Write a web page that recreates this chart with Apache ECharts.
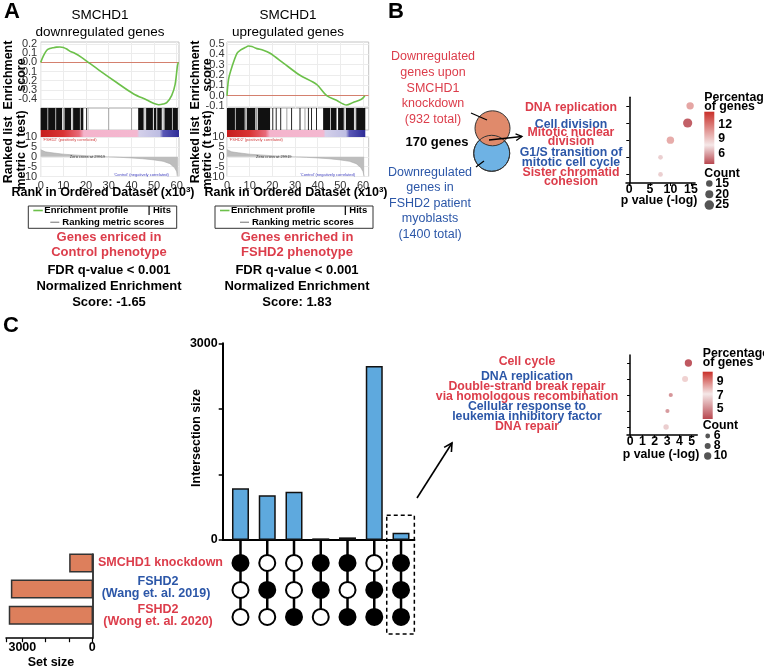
<!DOCTYPE html>
<html><head><meta charset="utf-8">
<script src="https://cdn.jsdelivr.net/npm/echarts@6.0.0/dist/echarts.min.js"></script>
<style>html,body{margin:0;padding:0;background:#fff;}#c{width:764px;height:669px;}</style>
</head><body><div id="c"></div>
<script>
// ================= DATA =================
// Panel A – running enrichment score (x = rank in ordered dataset, x10^3)
const esRankDown  = [0,1.2,2.6,4,5.6,7,8.5,10,11.5,13,15,18,21,26,33.5,41,46.8,50,52,54,55.6,57.8,59.3,60.3,60.7];
const esScoreDown = [0,0.07,0.13,0.15,0.16,0.166,0.168,0.163,0.145,0.12,0.10,0.055,0.0,-0.09,-0.22,-0.345,-0.41,-0.45,-0.462,-0.455,-0.44,-0.36,-0.24,-0.04,0];
const esRankUp    = [0,0.7,2.2,4.4,5.9,8,9.5,11,13.2,16,19,24.9,32,39.5,44,48.3,52.7,55.6,59.3,60.8];
const esScoreUp   = [0,0.16,0.28,0.41,0.44,0.465,0.48,0.475,0.455,0.44,0.41,0.315,0.2,0.11,0.0,-0.045,-0.09,-0.065,-0.035,0];
// ranked list metric (t test)
const metricRank  = [0,0.5,2,5,10,15,20,25,29.5,35,40,45,50,54,57,59,60,60.5];
const metricScore = [3.6,3.0,2.5,2.0,1.3,0.9,0.5,0.2,0,-0.3,-0.6,-1.0,-1.6,-2.3,-3.5,-5.5,-7.5,-10];
// hits: [start, end, dark(1)/grey(0)]
const hitsDown = [[0,3.0,1],[3.3,6.5,1],[6.8,9.4,1],[9.7,10.2,0],[10.5,13.4,1],[13.7,14.0,0],[14.3,17.3,1],[17.6,18.8,1],[20.0,20.3,1],[20.7,21.0,0],[29.8,30.2,0],[39.9,40.3,0],[43.0,45.4,1],[45.8,46.2,0],[46.5,49.5,1],[49.9,51.0,1],[51.4,53.4,1],[53.8,54.2,0],[54.6,57.9,1],[58.2,60.5,1]];
const hitsUp = [[0,3.5,1],[3.8,7.8,1],[8.0,8.4,0],[8.7,12.5,1],[12.8,13.3,0],[13.6,19.0,1],[20.0,20.4,1],[21.5,21.9,1],[23.5,23.9,1],[26.2,26.6,0],[28.3,28.7,1],[32.0,32.4,1],[34.2,34.6,0],[35.7,36.1,1],[37.1,37.5,1],[39.3,39.7,1],[42.4,45.5,1],[45.8,48.3,1],[49.0,51.5,1],[51.8,52.2,0],[52.5,56.0,1],[56.3,56.7,0],[57.0,61.0,1]];
const stripStops = [[0,'#c51d1d'],[10,'#d93434'],[17,'#e86a7a'],[19,'#f4b4cc'],[42.5,'#f4b8d0'],[43.5,'#d4d0ea'],[52.5,'#bdbde2'],[54,'#5a58b6'],[61,'#2d2c96']];
const esTicksDown = [-0.4,-0.3,-0.2,-0.1,0,0.1,0.2];
const esTicksUp   = [-0.1,0,0.1,0.2,0.3,0.4,0.5];
const rankTicks   = [0,10,20,30,40,50,60];
const metricTicks = [-10,-5,0,5,10];

// Panel B – GO terms of the 170 overlapping genes
const bTerms      = ['DNA replication','Cell division','Mitotic nuclear\ndivision','G1/S transition of\nmitotic cell cycle','Sister chromatid\ncohesion'];
const bTermColors = ['r','b','r','b','r'];
const bPval  = [14.8,14.2,10,7.6,7.6];
const bPct   = [10.2,4.6,10,7.2,7.2];
const bCount = [18,24,18,9,9];
const bPvalTicks  = [0,5,10,15];
const bPctTicks   = [12,9,6];
const bCountTicks = [15,20,25];

// Panel C – UpSet
const upsetCols  = [1,2,3,4,5,6,7];
const upsetSize  = [788,681,737,25,40,2653,110];
const membership = [[1,0,0],[0,1,0],[0,0,1],[1,1,0],[1,0,1],[0,1,1],[1,1,1]]; // [SMCHD1 KD, Wang 2019, Wong 2020]
const setRows    = [2,1,0];
const setSizes   = [960,3460,3550];
const setSizeTicks = [0,3000];
const upsetTicks = [0,3000];

// Panel C – GO terms of the triple intersection
const cTerms      = ['Cell cycle','DNA replication','Double-strand break repair\nvia homologous recombination','Cellular response to\nleukemia inhibitory factor','DNA repair'];
const cTermColors = ['r','b','r','b','r'];
const cPval  = [4.73,4.46,3.3,3.03,2.92];
const cPct   = [3.9,7.6,5.3,5.4,6.6];
const cCount = [10,8,5,5,7];
const cPvalTicks  = [0,1,2,3,4,5];
const cPctTicks   = [9,7,5];
const cCountTicks = [6,8,10];

// label layout (text line positions, px)
const bLabelY = [[107.3],[124.3],[132.7,141.7],[152.7,162.7],[172.7,182]];
const cLabelY = [[362],[377],[387,397],[407,417],[427]];

// ================= STYLE / HELPERS =================
const FONT = '"Liberation Sans", Arial, sans-serif';
const RED = '#dc3d4b', BLUE = '#2c57a8', GREEN = '#6cc04a';
const CL = '#b8474f', CM = '#f5e8e8', CH = '#c9302a';
const grid = [], xAxis = [], yAxis = [], series = [], graphic = [];
const yTickJobs = []; // y-axis tick labels placed through the axis scale after first render

function T(x, y, text, o = {}) {
  graphic.push({type:'text', x, y, rotation:o.rot||0, z:20, silent:true,
    style:{text, x:0, y:0, fill:o.color||'#000', fontSize:o.size||12, fontWeight:o.bold?'bold':'normal',
      fontFamily:FONT, align:o.align||'center', verticalAlign:'middle', rich:o.rich}});
}
function L(x1,y1,x2,y2,o={}) {
  graphic.push({type:'line', silent:true, z:20, shape:{x1,y1,x2,y2}, style:{stroke:o.color||'#000', lineWidth:o.w||1.2}});
}
function arrow(x1,y1,x2,y2,len,w) {
  L(x1,y1,x2,y2,{w});
  const a = Math.atan2(y2-y1,x2-x1), s = 0.5;
  graphic.push({type:'polyline', silent:true, z:20, shape:{points:[[x2-len*Math.cos(a-s),y2-len*Math.sin(a-s)],[x2,y2],[x2-len*Math.cos(a+s),y2-len*Math.sin(a+s)]]},
    style:{stroke:'#000', lineWidth:w, fill:null}});
}
function pctColor(v, lo, mid, hi) {
  if (v <= mid) return echarts.color.lerp(Math.max(0,(v-lo)/(mid-lo)), [CL, CM]);
  return echarts.color.lerp(Math.min(1,(v-mid)/(hi-mid)), [CM, CH]);
}
const zip = (a,b) => a.map((v,i)=>[v,b[i]]);
const lbl = (o={}) => Object.assign({fontFamily:FONT, color:'#000', fontWeight:'bold', fontSize:12, interval:0, showMinLabel:true, showMaxLabel:true}, o);

// ================= PANEL A =================
function gsea(p) {
  const gi = grid.length;
  const w = p.xMax * 2.267;
  const gs = {show:true, borderColor:'#c4c4c4', borderWidth:1};
  grid.push({left:p.left, top:42, width:w, height:66, ...gs});
  grid.push({left:p.left, top:108, width:w, height:22, ...gs});
  grid.push({left:p.left, top:130, width:w, height:7, show:false});
  grid.push({left:p.left, top:137, width:w, height:39.5, ...gs});
  for (let k=0;k<4;k++) {
    xAxis.push({type:'value', gridIndex:gi+k, min:0, max:p.xMax, axisLine:{show:false},
      axisTick:{show:false, customValues:rankTicks},
      axisLabel: k===3 ? {customValues:rankTicks, interval:0, fontSize:11, color:'#333', margin:4, fontFamily:FONT, showMinLabel:true, showMaxLabel:true} : {show:false},
      splitLine:{show:k===0||k===3, lineStyle:{color:'#ececec'}}});
  }
  yAxis.push({type:'value', gridIndex:gi, min:p.esMin, max:p.esMax, axisLine:{show:false},
    axisTick:{show:false, customValues:p.esTicks}, axisLabel:{show:false},
    splitLine:{show:true, lineStyle:{color:'#ececec'}}});
  yAxis.push({type:'value', gridIndex:gi+1, min:0, max:1, show:false});
  yAxis.push({type:'value', gridIndex:gi+2, min:0, max:1, show:false});
  yAxis.push({type:'value', gridIndex:gi+3, min:-10, max:10, axisLine:{show:false}, axisTick:{show:false, customValues:metricTicks},
    axisLabel:{show:false}, splitLine:{show:true, lineStyle:{color:'#ececec'}}});
  yTickJobs.push({axis:gi, vals:p.esTicks, fmt:v=>v.toFixed(1), x:p.left-p.lm});
  yTickJobs.push({axis:gi+3, vals:metricTicks, fmt:v=>String(v), x:p.left-p.lm});
  series.push({type:'line', xAxisIndex:gi, yAxisIndex:gi, data:zip(p.esX,p.esY), showSymbol:false, smooth:0.3,
    lineStyle:{color:GREEN, width:1.6}, z:5, silent:true,
    markLine:{silent:true, symbol:'none', label:{show:false}, lineStyle:{color:'#d4806e', width:1, type:'solid'}, data:[{yAxis:0}]}});
  series.push({type:'custom', xAxisIndex:gi+1, yAxisIndex:gi+1, data:p.hits, silent:true,
    renderItem:(pr,api)=>{ const a=api.coord([api.value(0),1]), b=api.coord([api.value(1),0]);
      return {type:'rect', shape:{x:a[0], y:a[1], width:Math.max(0.8,b[0]-a[0]), height:b[1]-a[1]}, style:{fill:api.value(2)?'#111':'#9a9a9a'}}; }});
  series.push({type:'custom', xAxisIndex:gi+2, yAxisIndex:gi+2, data:[[0,61]], silent:true,
    renderItem:(pr,api)=>{ const a=api.coord([api.value(0),1]), b=api.coord([api.value(1),0]);
      return {type:'rect', shape:{x:a[0], y:a[1], width:b[0]-a[0], height:b[1]-a[1]},
        style:{fill:{type:'linear', x:0, y:0, x2:1, y2:0, colorStops:stripStops.map(s=>({offset:s[0]/61, color:s[1]}))}}}; }});
  series.push({type:'line', xAxisIndex:gi+3, yAxisIndex:gi+3, data:zip(metricRank,metricScore), showSymbol:false,
    lineStyle:{color:'#aaa', width:0.6}, areaStyle:{color:'#bdbdbd', opacity:1}, silent:true});
  // texts
  const L0 = p.left;
  T(p.tcx, 15, 'SMCHD1', {size:13.5});
  T(p.tcx, 32, p.title2, {size:13.5});
  T(p.yt1, 75, 'Enrichment', {bold:true, size:12.5, rot:Math.PI/2});
  T(p.yt2, 75, 'score', {bold:true, size:12.5, rot:Math.PI/2});
  T(p.yt1, 150, 'Ranked list', {bold:true, size:12.5, rot:Math.PI/2});
  T(p.yt2, 150, 'metric (t test)', {bold:true, size:12.5, rot:Math.PI/2});
  T(p.xtc, 193, '{a|Rank in Ordered Dataset (x10}{s|3}{a|)}', {rich:{a:{fontSize:12.5, fontWeight:'bold', fontFamily:FONT}, s:{fontSize:8, fontWeight:'bold', fontFamily:FONT, padding:[0,0,7,0]}}});
  T(L0+2, 139.5, "'FSHD2' (positively correlated)", {size:4, color:'#d04040', align:'left'});
  T(L0+29, 157, 'Zero cross at 29919', {size:4, color:'#333', align:'left'});
  T(L0+73, 175, "'Control' (negatively correlated)", {size:4, color:'#4040c0', align:'left'});
  // legend box
  graphic.push({type:'rect', silent:true, z:20, shape:{x:p.bx, y:206, width:p.bw, height:22.3}, style:{fill:null, stroke:'#333', lineWidth:1}});
  L(p.bx+5, 210.5, p.bx+14.5, 210.5, {color:GREEN, w:1.6});
  T(p.bx+16, 210.7, 'Enrichment profile', {bold:true, size:9.5, align:'left'});
  T(p.bx+p.bw-29, 210.7, '| Hits', {bold:true, size:9.5, align:'left'});
  L(p.bx+p.gl, 222.3, p.bx+p.gl+9, 222.3, {color:'#999', w:1.4});
  T(p.bx+p.gl+12, 222.3, 'Ranking metric scores', {bold:true, size:9.5, align:'left'});
  T(p.rcx, 237.5, p.red1, {bold:true, size:13, color:RED});
  T(p.rcx, 252.5, p.red2, {bold:true, size:13, color:RED});
  T(p.rcx, 270, 'FDR q-value < 0.001', {bold:true, size:13});
  T(p.rcx, 286, 'Normalized Enrichment', {bold:true, size:13});
  T(p.rcx, 302, p.score, {bold:true, size:13});
}
gsea({left:40.7, xMax:61, esMin:-0.498, esMax:0.222, esTicks:esTicksDown, esX:esRankDown, esY:esScoreDown, hits:hitsDown, lm:3.5,
  tcx:100, title2:'downregulated genes', yt1:9, yt2:22, xtc:103, bx:28.3, bw:148.4, gl:22, rcx:109,
  red1:'Genes enriced in', red2:'Control phenotype', score:'Score: -1.65'});
gsea({left:227, xMax:62.5, esMin:-0.119, esMax:0.519, esTicks:esTicksUp, esX:esRankUp, esY:esScoreUp, hits:hitsUp, lm:2.5,
  tcx:288, title2:'upregulated genes', yt1:195.5, yt2:208, xtc:296, bx:215, bw:158, gl:25, rcx:297,
  red1:'Genes enriched in', red2:'FSHD2 phenotype', score:'Score: 1.83'});
T(4, 12, 'A', {bold:true, size:22, align:'left'});

// ================= PANEL B =================
T(388, 12, 'B', {bold:true, size:22, align:'left'});
['Downregulated','genes upon','SMCHD1','knockdown','(932 total)'].forEach((s,i)=>T(433, 57+15.6*i, s, {size:12.5, color:RED}));
['Downregulated','genes in','FSHD2 patient','myoblasts','(1400 total)'].forEach((s,i)=>T(430, 172.5+15.5*i, s, {size:12.5, color:BLUE}));
graphic.push({type:'circle', silent:true, z:12, shape:{cx:491.7, cy:153.3, r:18}, style:{fill:'#6eb2e4', stroke:'#333', lineWidth:1}});
graphic.push({type:'circle', silent:true, z:13, shape:{cx:492.5, cy:128.3, r:17.5}, style:{fill:'#e08a6b', stroke:'#333', lineWidth:1}});
graphic.push({type:'circle', silent:true, z:14, shape:{cx:491.7, cy:153.3, r:18}, style:{fill:null, stroke:'#333', lineWidth:1}});
T(437, 142, '170 genes', {bold:true, size:13});
L(471, 113, 487, 120, {w:1.2});
L(476, 167, 484, 161, {w:1.2});
arrow(489, 140, 522, 136.5, 7, 1.3);

function termLabels(terms, cols, ys, cx) {
  terms.forEach((t,i)=>t.split('\n').forEach((s,j)=>T(cx, ys[i][j], s, {bold:true, size:12.3, color:cols[i]==='r'?RED:BLUE})));
}
const gB = grid.length;
grid.push({left:626, top:97.25, width:16.8*4.11, height:85.75});
xAxis.push({type:'value', gridIndex:gB, min:-0.8, max:16, axisLine:{show:true, onZero:false, lineStyle:{color:'#000', width:1.5}},
  axisTick:{show:true, customValues:bPvalTicks, length:3, lineStyle:{color:'#000'}},
  axisLabel:{customValues:bPvalTicks, ...lbl({fontSize:12.3}), margin:1}, splitLine:{show:false}});
yAxis.push({type:'category', gridIndex:gB, data:bTerms, inverse:true, axisLine:{show:true, lineStyle:{color:'#000', width:1.5}},
  axisTick:{show:true, alignWithLabel:true, length:3, lineStyle:{color:'#000'}}, axisLabel:{show:false}, splitLine:{show:false}});
termLabels(bTerms, bTermColors, bLabelY, 571);
const sizeB = c => 2 + 0.3*c;
const B_LO=4, B_MID=7.8, B_HI=14.5;
series.push({type:'scatter', xAxisIndex:gB, yAxisIndex:gB, silent:true, data:bTerms.map((t,i)=>[bPval[i], t, bPct[i], bCount[i]]),
  symbolSize:v=>sizeB(v[3]), itemStyle:{color:p=>pctColor(p.data[2],B_LO,B_MID,B_HI), opacity:1}});
T(659, 200.5, 'p value (-log)', {bold:true, size:12.3});
function colorLegend(x, y0, h, lo, mid, hi, ticks, counts, sizeFn, cy0, cdy, tTitle) {
  T(x, tTitle, 'Percentage', {bold:true, size:12.3, align:'left'});
  T(x, tTitle+8.8, 'of genes', {bold:true, size:12.3, align:'left'});
  graphic.push({type:'rect', silent:true, z:20, shape:{x:x, y:y0, width:10, height:h},
    style:{fill:{type:'linear', x:0, y:0, x2:0, y2:1, colorStops:[{offset:0,color:CH},{offset:(hi-mid)/(hi-lo),color:CM},{offset:1,color:CL}]}}});
  ticks.forEach(v=>T(x+14, y0+(hi-v)/(hi-lo)*h, String(v), {bold:true, size:12.3, align:'left'}));
  T(x, cy0-10, 'Count', {bold:true, size:12.3, align:'left'});
  counts.forEach((c,i)=>{
    graphic.push({type:'circle', silent:true, z:20, shape:{cx:x+5, cy:cy0+cdy*i, r:sizeFn(c)/2}, style:{fill:'#555'}});
    T(x+11, cy0+cdy*i, String(c), {bold:true, size:12.3, align:'left'});
  });
}
colorLegend(704.3, 111.7, 52.3, B_LO, B_MID, B_HI, bPctTicks, bCountTicks, sizeB, 183.5, 10.8, 97.5);

// ================= PANEL C =================
T(3, 326, 'C', {bold:true, size:22, align:'left'});
const UX0 = 0.335, UX1 = 7.5;
const gU = grid.length;
grid.push({left:222.7, top:343.3, width:191.7, height:196.7});
xAxis.push({type:'value', gridIndex:gU, min:UX0, max:UX1, axisLine:{show:true, onZero:false, lineStyle:{color:'#000', width:2}},
  axisTick:{show:false}, axisLabel:{show:false}, splitLine:{show:false}});
yAxis.push({type:'value', gridIndex:gU, min:0, max:3000, interval:1000, axisLine:{show:true, lineStyle:{color:'#000', width:2}},
  axisTick:{show:true, length:4, lineStyle:{color:'#000', width:1.5}},
  axisLabel:{formatter:v=>upsetTicks.includes(v)?String(v):'', ...lbl({fontSize:12.5}), margin:5}, splitLine:{show:false}});
series.push({type:'bar', xAxisIndex:gU, yAxisIndex:gU, silent:true, data:upsetCols.map((c,i)=>[c, upsetSize[i]]), barWidth:17,
  itemStyle:{color:'#5ea9de', borderColor:'#111', borderWidth:1.5}});
T(197, 438, 'Intersection size', {bold:true, size:12.5, rot:Math.PI/2});

// matrix
const M_MIN = -0.63, M_MAX = 2.85;
const gM = grid.length;
grid.push({left:222.7, top:540, width:191.7, height:(M_MAX-M_MIN)*27});
xAxis.push({type:'value', gridIndex:gM, min:UX0, max:UX1, show:false});
yAxis.push({type:'value', gridIndex:gM, min:M_MIN, max:M_MAX, show:false});
series.push({type:'custom', xAxisIndex:gM, yAxisIndex:gM, silent:true, data:upsetCols.map(c=>[c]), z:2,
  renderItem:(pr,api)=>{ const a=api.coord([api.value(0), M_MAX]), b=api.coord([api.value(0), 0]);
    return {type:'line', shape:{x1:a[0], y1:a[1], x2:b[0], y2:b[1]}, style:{stroke:'#000', lineWidth:2.5}}; }});
const dots = [];
upsetCols.forEach((c,i)=>membership[i].forEach((m,j)=>dots.push([c, setRows[j], m])));
series.push({type:'scatter', xAxisIndex:gM, yAxisIndex:gM, silent:true, data:dots, symbolSize:16, z:3,
  itemStyle:{color:p=>p.data[2]?'#000':'#fff', borderColor:'#000', borderWidth:2, opacity:1}});
series.push({type:'custom', xAxisIndex:gM, yAxisIndex:gM, silent:true, data:[[6.466, 7.498, 3.765]], clip:false, z:4,
  renderItem:(pr,api)=>{ const a=api.coord([api.value(0), api.value(2)]), b=api.coord([api.value(1), M_MIN]);
    return {type:'rect', shape:{x:a[0], y:a[1], width:b[0]-a[0], height:b[1]-a[1]}, style:{fill:null, stroke:'#000', lineWidth:1.5, lineDash:[4,3]}}; }});

// set size bars
const S_MIN = -0.88, S_MAX = 2.34;
const gS = grid.length;
grid.push({left:6, top:554, width:86.3, height:(S_MAX-S_MIN)*26.15});
xAxis.push({type:'value', gridIndex:gS, inverse:true, min:0, max:3700, interval:1000,
  axisLine:{show:true, onZero:false, lineStyle:{color:'#000', width:1.5}}, axisTick:{show:true, length:4, lineStyle:{color:'#000', width:1.2}},
  axisLabel:{customValues:setSizeTicks, formatter:v=>String(v), ...lbl({fontSize:12.5}), margin:3}, splitLine:{show:false}});
yAxis.push({type:'value', gridIndex:gS, position:'right', min:S_MIN, max:S_MAX, axisLine:{show:true, onZero:false, lineStyle:{color:'#000', width:1.5}},
  axisTick:{show:false}, axisLabel:{show:false}, splitLine:{show:false}});
series.push({type:'custom', xAxisIndex:gS, yAxisIndex:gS, silent:true, data:setSizes.map((s,i)=>[s, setRows[i]]),
  renderItem:(pr,api)=>{ const a=api.coord([api.value(0), api.value(1)]), b=api.coord([0, api.value(1)]), h=17.5;
    return {type:'rect', shape:{x:a[0], y:a[1]-h/2, width:b[0]-a[0], height:h}, style:{fill:'#dd7f5c', stroke:'#333', lineWidth:1.5}}; }});
T(51, 663, 'Set size', {bold:true, size:12.5});
T(223, 563, 'SMCHD1 knockdown', {bold:true, size:12.5, color:RED, align:'right'});
T(158, 581.5, 'FSHD2', {bold:true, size:12.5, color:BLUE});
T(156, 594, '(Wang et. al. 2019)', {bold:true, size:12.5, color:BLUE});
T(158, 610, 'FSHD2', {bold:true, size:12.5, color:RED});
T(158, 622, '(Wong et. al. 2020)', {bold:true, size:12.5, color:RED});
arrow(417, 498, 452, 443, 9, 1.6);

// C dot plot
const gC = grid.length;
grid.push({left:627, top:355, width:5.7*12.33, height:80});
xAxis.push({type:'value', gridIndex:gC, min:-0.25, max:5.45, axisLine:{show:true, onZero:false, lineStyle:{color:'#000', width:1.5}},
  axisTick:{show:true, customValues:cPvalTicks, length:3, lineStyle:{color:'#000'}},
  axisLabel:{customValues:cPvalTicks, ...lbl({fontSize:12.3}), margin:1}, splitLine:{show:false}});
yAxis.push({type:'category', gridIndex:gC, data:cTerms, inverse:true, axisLine:{show:true, lineStyle:{color:'#000', width:1.5}},
  axisTick:{show:true, alignWithLabel:true, length:3, lineStyle:{color:'#000'}}, axisLabel:{show:false}, splitLine:{show:false}});
termLabels(cTerms, cTermColors, cLabelY, 527);
const sizeC = c => 1 + 0.63*c;
const C_LO=3.5, C_MID=7.2, C_HI=10.5;
series.push({type:'scatter', xAxisIndex:gC, yAxisIndex:gC, silent:true, data:cTerms.map((t,i)=>[cPval[i], t, cPct[i], cCount[i]]),
  symbolSize:v=>sizeC(v[3]), itemStyle:{color:p=>pctColor(p.data[2],C_LO,C_MID,C_HI), opacity:1}});
T(661, 455, 'p value (-log)', {bold:true, size:12.3});
colorLegend(702.7, 371.7, 47.3, C_LO, C_MID, C_HI, cPctTicks, cCountTicks, sizeC, 436, 10, 354);

// ================= RENDER =================
const chart = echarts.init(document.getElementById('c'));
chart.setOption({animation:false, backgroundColor:'#fff', textStyle:{fontFamily:FONT}, grid, xAxis, yAxis, series, graphic});
// GSEA y tick labels, positioned through each axis' own scale
yTickJobs.forEach(j => j.vals.forEach(v => {
  const py = chart.convertToPixel({yAxisIndex:j.axis}, v);
  T(j.x, py, j.fmt(v), {size:11, color:'#333', align:'right'});
}));
chart.setOption({graphic});
</script></body></html>
